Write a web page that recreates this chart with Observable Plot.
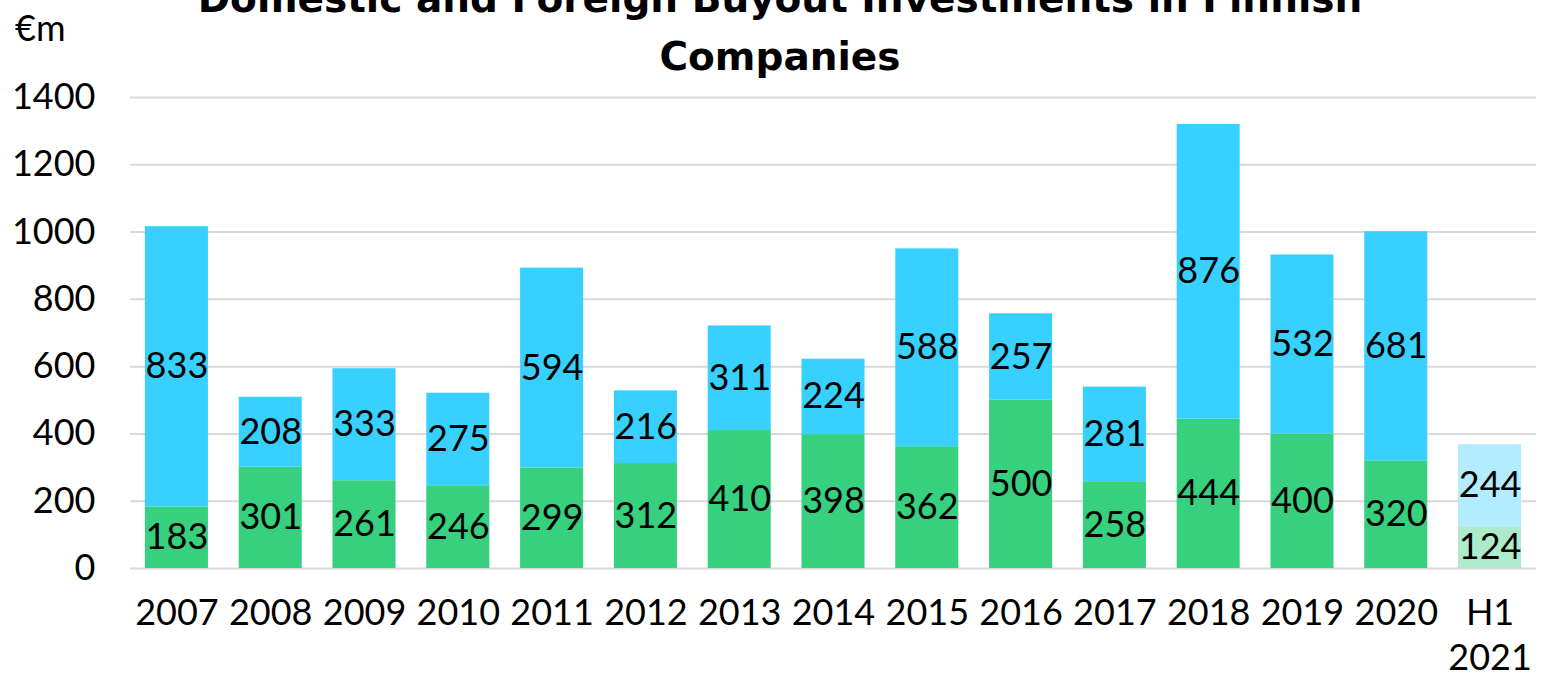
<!DOCTYPE html>
<html>
<head>
<meta charset="utf-8">
<script src="https://cdn.jsdelivr.net/npm/d3@7"></script>
<script src="https://cdn.jsdelivr.net/npm/@observablehq/plot@0.6"></script>
<style>
  html, body { margin: 0; padding: 0; background: #fff; overflow: hidden; }
  #wrap { position: relative; width: 1549px; height: 674px; }
  #title { position: absolute; left: 80px; width: 1400px; top: -30px; text-align: center; white-space: nowrap;
           font-family: "DejaVu Sans", sans-serif; font-weight: bold; font-size: 39px; line-height: 58px; color: #000; }
  #unit { position: absolute; left: 15px; top: 5px; font-family: Lato, sans-serif; font-size: 36px; color: #000; }
  #chart { position: absolute; left: 0; top: 0; }
</style>
</head>
<body>
<div id="wrap">
  <div id="chart"></div>
  <div id="title">Domestic and Foreign Buyout Investments in Finnish<br>Companies</div>
  <div id="unit">€m</div>
</div>
<script>
const years = ["2007","2008","2009","2010","2011","2012","2013","2014","2015","2016","2017","2018","2019","2020","H1 2021"];
const domestic = [183,301,261,246,299,312,410,398,362,500,258,444,400,320,124];
const foreign  = [833,208,333,275,594,216,311,224,588,257,281,876,532,681,244];
const seriesNames = ["Domestic","Foreign"];
const seriesColors = ["#36D07F","#38D1FF"];
const partialColors = ["#AEEBCB","#B3ECFF"];
const yTicks = [0,200,400,600,800,1000,1200,1400];

const data = [];
years.forEach((yr, i) => {
  data.push({year: yr, series: seriesNames[0], value: domestic[i], partial: yr.startsWith("H1")});
  data.push({year: yr, series: seriesNames[1], value: foreign[i], partial: yr.startsWith("H1")});
});
const fillOf = d => (d.partial ? partialColors : seriesColors)[seriesNames.indexOf(d.series)];

const chart = Plot.plot({
  width: 1549,
  height: 674,
  marginTop: 97,
  marginBottom: 106,
  marginLeft: 130,
  marginRight: 13,
  style: {fontFamily: "Lato, sans-serif", fontSize: "36px", color: "#000", background: "transparent"},
  x: {domain: years, paddingInner: 0.328, paddingOuter: 0.159, round: false, label: null},
  y: {domain: [0, 1400], label: null},
  marks: [
    Plot.gridY(yTicks, {stroke: "#d9d9d9", strokeOpacity: 1, strokeWidth: 2}),
    Plot.axisY(yTicks, {tickSize: 0, tickPadding: 35, fontSize: 36, label: null, tickFormat: d => String(d)}),
    Plot.axisX({tickSize: 0, tickPadding: 25, fontSize: 36, lineHeight: 1.25,
                tickFormat: d => d.replace(" ", "\n"), label: null}),
    Plot.barY(data, Plot.stackY({x: "year", y: "value", z: "series", fill: fillOf, order: seriesNames})),
    Plot.text(data, Plot.stackY({x: "year", y: "value", z: "series", text: d => String(d.value),
                                  order: seriesNames, fill: "#000", fontSize: 36}))
  ]
});
document.getElementById("chart").appendChild(chart);
</script>
</body>
</html>
